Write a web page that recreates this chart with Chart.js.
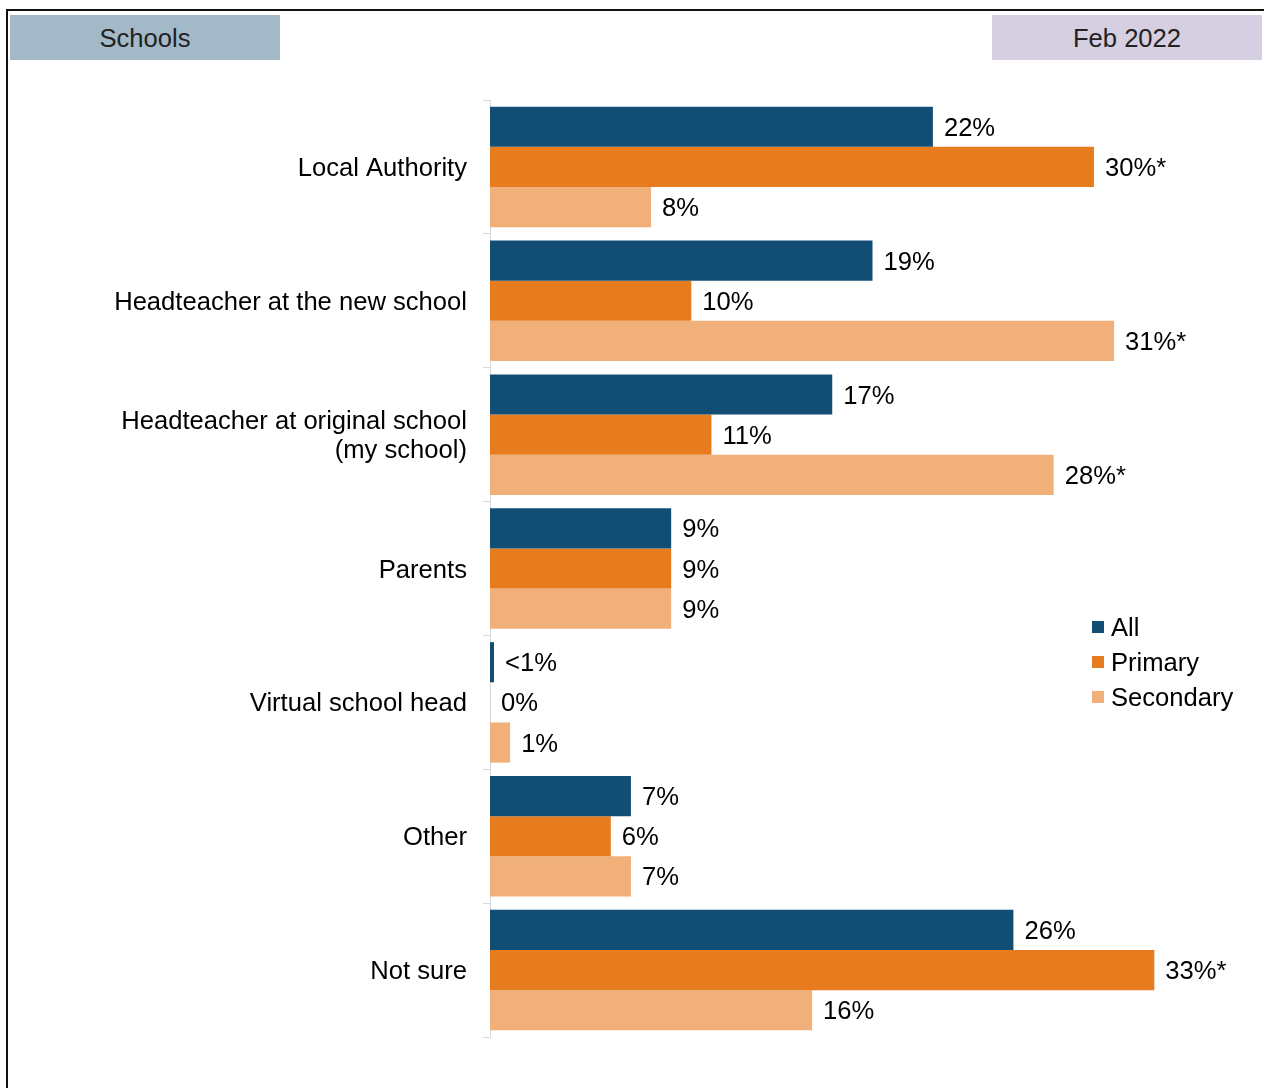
<!DOCTYPE html>
<html>
<head>
  <title>Schools - Feb 2022</title>
  <script src="https://cdn.jsdelivr.net/npm/chart.js"></script>
  <style>
    body {
      margin: 0;
      background: #fff;
      font-family: "Liberation Sans", Arial, sans-serif;
    }
    .frame {
      position: absolute;
      left: 6px;
      top: 9px;
      width: 1300px;
      height: 1200px;
      border-left: 2px solid #111;
      border-top: 2px solid #111;
    }
    .tag {
      position: absolute;
      top: 15px;
      height: 45px;
      width: 270px;
      line-height: 46px;
      text-align: center;
      font-size: 25.6px;
      color: #222;
    }
    #tagLeft { left: 10px; background: #a3b9c8; }
    #tagRight { left: 992px; background: #d5cfe1; }
    #wrap {
      position: absolute;
      left: 0;
      top: 0;
      width: 1264px;
      height: 1088px;
    }
  </style>
</head>
<body>
  <div class="frame"></div>
  <div class="tag" id="tagLeft">Schools</div>
  <div class="tag" id="tagRight">Feb 2022</div>
  <div id="wrap"><canvas id="chart"></canvas></div>

  <script>
    const categories = [
      'Local Authority',
      'Headteacher at the new school',
      ['Headteacher at original school', '(my school)'],
      'Parents',
      'Virtual school head',
      'Other',
      'Not sure'
    ];
    const allValues = [22, 19, 17, 9, 0.2, 7, 26];
    const primaryValues = [30, 10, 11, 9, 0, 6, 33];
    const secondaryValues = [8, 31, 28, 9, 1, 7, 16];
    const allLabels = ['22%', '19%', '17%', '9%', '<1%', '7%', '26%'];
    const primaryLabels = ['30%*', '10%', '11%', '9%', '0%', '6%', '33%*'];
    const secondaryLabels = ['8%', '31%*', '28%*', '9%', '1%', '7%', '16%'];

    const FONT = '"Liberation Sans", Arial, sans-serif';
    const SIZE = 25.6;

    // value labels at end of each bar
    const barLabels = {
      id: 'barLabels',
      afterDatasetsDraw(chart) {
        const ctx = chart.ctx;
        ctx.save();
        ctx.font = SIZE + 'px ' + FONT;
        ctx.fillStyle = '#000';
        ctx.textBaseline = 'middle';
        ctx.textAlign = 'left';
        chart.data.datasets.forEach((ds, i) => {
          chart.getDatasetMeta(i).data.forEach((bar, j) => {
            ctx.fillText(ds.valueLabels[j], bar.x + 11, bar.y + 2);
          });
        });
        ctx.restore();
      }
    };

    // legend sitting inside the plot on the right
    const sideLegend = {
      id: 'sideLegend',
      afterDraw(chart) {
        const ctx = chart.ctx;
        ctx.save();
        ctx.font = SIZE + 'px ' + FONT;
        ctx.textBaseline = 'middle';
        chart.data.datasets.forEach((ds, i) => {
          const y = 627 + i * 35;
          ctx.fillStyle = ds.backgroundColor;
          ctx.fillRect(1092, y - 6, 12, 12);
          ctx.fillStyle = '#000';
          ctx.fillText(ds.label, 1111, y + 2);
        });
        ctx.restore();
      }
    };

    new Chart(document.getElementById('chart'), {
      type: 'bar',
      data: {
        labels: categories,
        datasets: [
          { label: 'All', data: allValues, valueLabels: allLabels, backgroundColor: '#124e73' },
          { label: 'Primary', data: primaryValues, valueLabels: primaryLabels, backgroundColor: '#e77c1f' },
          { label: 'Secondary', data: secondaryValues, valueLabels: secondaryLabels, backgroundColor: '#f1b07a' }
        ]
      },
      options: {
        indexAxis: 'y',
        responsive: true,
        maintainAspectRatio: false,
        animation: false,
        categoryPercentage: 0.9,
        barPercentage: 1.0,
        layout: { padding: { top: 100, bottom: 51, left: 0, right: 9 } },
        plugins: {
          legend: { display: false },
          tooltip: { enabled: false }
        },
        scales: {
          x: { display: false, min: 0, max: 38 },
          y: {
            afterFit: s => { s.width = 490; },
            border: { color: '#d9d9d9', width: 1 },
            grid: {
              offset: true,
              drawOnChartArea: false,
              color: '#d9d9d9',
              tickLength: 7
            },
            ticks: {
              color: '#000',
              padding: 16,
              labelOffset: 2,
              font: { family: FONT, size: SIZE, lineHeight: 1.14 }
            }
          }
        }
      },
      plugins: [barLabels, sideLegend]
    });
  </script>
</body>
</html>
